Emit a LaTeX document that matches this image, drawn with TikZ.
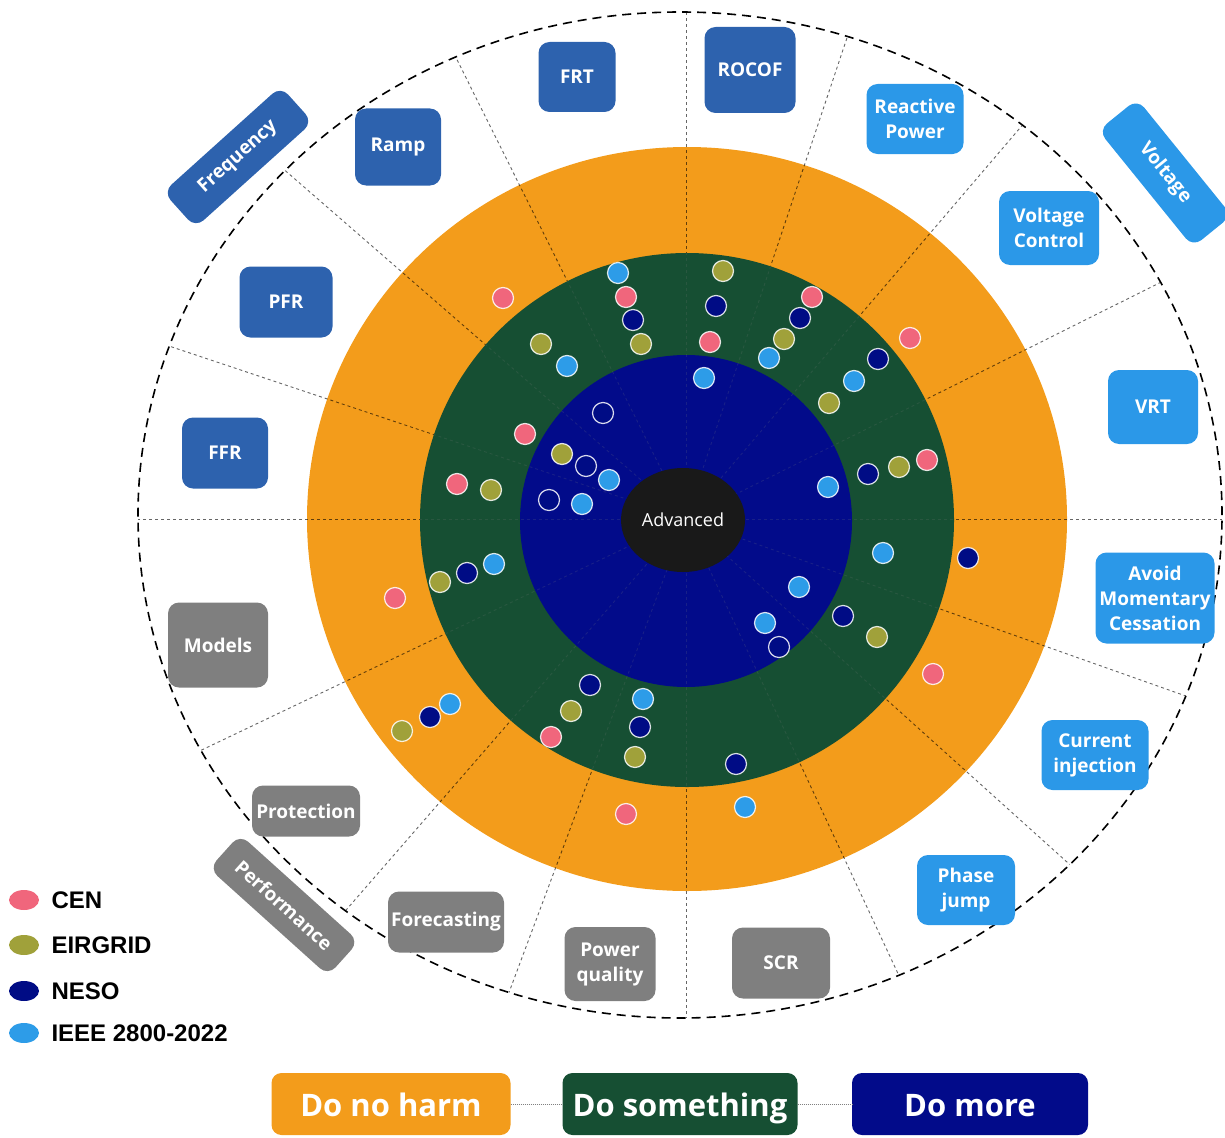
\documentclass[tikz,border=0pt]{standalone}
\usepackage{fontspec}
\setmainfont{Open Sans}
\newfontfamily\legendfont{Liberation Sans}
\usetikzlibrary{shapes.geometric}

\definecolor{ringorange}{HTML}{F39C1B}
\definecolor{ringgreen}{HTML}{164F33}
\definecolor{ringnavy}{HTML}{020B8A}
\definecolor{freqblue}{HTML}{2D62AE}
\definecolor{voltblue}{HTML}{2B98E8}
\definecolor{perfgray}{HTML}{7F7F7F}
\definecolor{cenpink}{HTML}{F0667C}
\definecolor{eirolive}{HTML}{A0A13A}
\definecolor{nesonavy}{HTML}{000C85}
\definecolor{ieeeblue}{HTML}{2D9CE8}

\begin{document}
\begin{tikzpicture}[x=1pt, y=-1pt,
    tag/.style={rounded corners=11pt, text=white, font=\fontsize{19}{25}\selectfont\bfseries, align=center, inner sep=0pt},
    freq/.style={tag, fill=freqblue},
    volt/.style={tag, fill=voltblue},
    perf/.style={tag, fill=perfgray},
    dot/.style={draw=white, draw opacity=0.85, line width=1.2pt},
    spoke/.style={black, opacity=0.6, line width=0.9pt, dash pattern=on 3pt off 3pt},
    faintspoke/.style={gray, opacity=0.18, line width=0.9pt, dash pattern=on 3pt off 3pt},
    level/.style={rounded corners=10pt, text=white, font=\fontsize{31}{37}\selectfont\bfseries, minimum height=62pt, inner sep=0pt, text height=24pt, text depth=0pt},
    legend/.style={anchor=west, font=\legendfont\fontsize{24}{28}\selectfont\bfseries},
]
\useasboundingbox (0,0) rectangle (1225,1137);

% rings
\fill[ringorange] (687,519) ellipse [x radius=380pt, y radius=372pt];
\begin{scope}
\clip (680,515) ellipse [x radius=542pt, y radius=503pt];
\foreach \a in {0,26.5,49.5,71.5,90,116.5,139,161.5,180,205.5,229,249.5,270,295,318,340.5}
    \draw[spoke] (686,519) -- ++(\a:720pt);
\end{scope}
\fill[ringgreen] (687,520) circle [radius=267pt];
\fill[ringnavy] (686,521) circle [radius=166pt];
\begin{scope}
\clip (687,520) circle [radius=267pt];
\foreach \a in {0,26.5,49.5,71.5,90,116.5,139,161.5,180,205.5,229,249.5,270,295,318,340.5}
    \draw[faintspoke] (686,519) -- ++(\a:300pt);
\end{scope}
\draw[black, line width=1.6pt, dash pattern=on 9pt off 6pt] (680,515) ellipse [x radius=542pt, y radius=503pt];
\node[ellipse, fill=black!90, minimum width=124pt, minimum height=104pt, inner sep=0pt, text=white, font=\fontsize{18}{22}\selectfont] (advanced) at (683,520) {Advanced};

% dots
\foreach \x/\y in {503/298, 626/297, 710/342, 812/297, 910/338, 525/434, 457/484, 927/460, 395/598, 933/674, 551/737, 626/814}
    \fill[cenpink, dot] (\x,\y) circle [radius=10.5pt];
\foreach \x/\y in {541/344, 641/344, 723/271, 784/339, 829/403, 562/454, 491/490, 899/467, 440/582, 877/637, 571/711, 635/757, 402/731}
    \fill[eirolive, dot] (\x,\y) circle [radius=10.5pt];
\foreach \x/\y in {633/320, 716/306, 800/318, 878/359, 603/413, 586/466, 549/500, 868/474, 467/573, 968/558, 843/616, 779/647, 590/685, 640/727, 736/764, 430/717}
    \fill[nesonavy, dot] (\x,\y) circle [radius=10.5pt];
\foreach \x/\y in {618/273, 567/366, 704/378, 769/358, 854/381, 609/480, 582/504, 828/487, 494/564, 883/553, 799/587, 765/623, 643/699, 745/807, 450/704}
    \fill[ieeeblue, dot] (\x,\y) circle [radius=10.5pt];

% frequency labels
\node[freq, minimum width=77pt, minimum height=70pt] (frt) at (577,77) {FRT};
\node[freq, minimum width=91pt, minimum height=86pt] (rocof) at (750,70) {ROCOF};
\node[freq, minimum width=86pt, minimum height=77pt] (ramp) at (398,147) {Ramp};
\node[freq, minimum width=93pt, minimum height=71pt] (pfr) at (286,302) {PFR};
\node[freq, minimum width=86pt, minimum height=71pt] (ffr) at (225,453) {FFR};
\node[freq, rotate=42, minimum width=158pt, minimum height=48pt] (frequency) at (238,157) {Frequency};

% voltage labels
\node[volt, minimum width=97pt, minimum height=70pt] (reactive) at (915,119) {Reactive\\Power};
\node[volt, minimum width=100pt, minimum height=74pt] (vcontrol) at (1049,228) {Voltage\\Control};
\node[volt, minimum width=90pt, minimum height=74pt] (vrt) at (1153,407) {VRT};
\node[volt, minimum width=119pt, minimum height=91pt] (avoid) at (1155,598) {Avoid\\Momentary\\Cessation};
\node[volt, minimum width=107pt, minimum height=70pt] (current) at (1095,755) {Current\\injection};
\node[volt, minimum width=98pt, minimum height=70pt] (phase) at (966,890) {Phase\\jump};
\node[volt, rotate=-51, minimum width=150pt, minimum height=50pt] (voltage) at (1165,173) {Voltage};

% performance labels
\node[perf, minimum width=98pt, minimum height=71pt] (scr) at (781,963) {SCR};
\node[perf, minimum width=91pt, minimum height=74pt] (quality) at (610,964) {Power\\quality};
\node[perf, minimum width=116pt, minimum height=61pt] (forecasting) at (446,922) {Forecasting};
\node[perf, minimum width=108pt, minimum height=51pt] (protection) at (306,811) {Protection};
\node[perf, minimum width=100pt, minimum height=85pt] (models) at (218,645) {Models};
\node[perf, rotate=-42, minimum width=160pt, minimum height=46pt] (performance) at (284,905) {Performance};

% legend
\fill[cenpink] (24,900) ellipse [x radius=15pt, y radius=10pt];
\fill[eirolive] (24,945) ellipse [x radius=15pt, y radius=10pt];
\fill[nesonavy] (24,991) ellipse [x radius=15pt, y radius=10pt];
\fill[ieeeblue] (24,1033) ellipse [x radius=15pt, y radius=10pt];
\node[legend] (cen) at (48,900) {CEN};
\node[legend] (eirgrid) at (48,945) {EIRGRID};
\node[legend] (neso) at (48,991) {NESO};
\node[legend] (ieee) at (48,1033) {IEEE 2800-2022};

% levels
\node[level, fill=ringorange, minimum width=239pt] (harm) at (391,1104) {Do no harm};
\node[level, fill=ringgreen, minimum width=235pt] (something) at (680,1104) {Do something};
\node[level, fill=ringnavy, minimum width=236pt] (more) at (970,1104) {Do more};
\draw[gray, densely dotted, line width=1pt] (harm) -- (something);
\draw[gray, densely dotted, line width=1pt] (something) -- (more);

\end{tikzpicture}
\end{document}
